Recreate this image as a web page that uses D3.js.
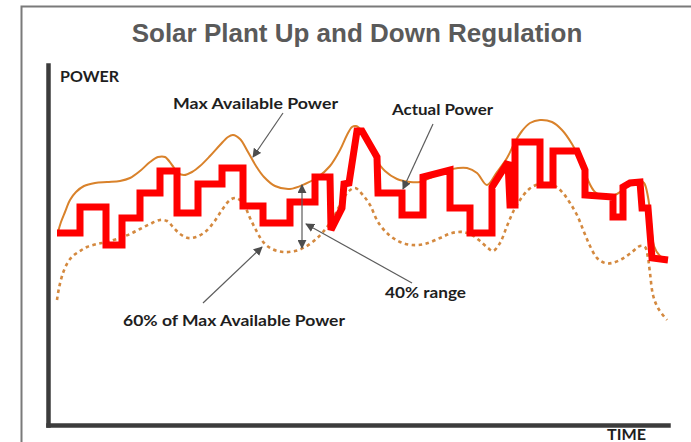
<!DOCTYPE html>
<html>
<head>
<meta charset="utf-8">
<script src="https://cdn.jsdelivr.net/npm/d3@7"></script>
<style>
  html, body { margin: 0; padding: 0; background: #ffffff; }
  svg { display: block; }
</style>
</head>
<body>
<svg id="chart" width="691" height="442"></svg>
<script>
// ---------- DATA (time, power) ----------
const titleText = "Solar Plant Up and Down Regulation";
const axisLabels = ["POWER", "TIME"];

// Max available power (smooth solid orange curve)
const maxTime  = [10,13,17,22,28,36,47,59,72,82,92,102,110,117,124,130,136,144,152,162,172,180,185,192,200,208,216,227,242,257,270,282,292,299,304,308,314,320,327,337,349,362,372,384,397,410,419,429,439,449,459,467,474,482,492,504,514,524,532,539,547,559,569,580,590,596,600,603,606,612,619];
const maxPower = [193,203,213,225,233,239,242,243,244,247,254,263,268,268,260,252,250,253,259,269,280,288,290,286,273,259,248,239,236,241,248,259,275,290,298,299,294,282,267,254,246,243,243,248,254,257,257,252,240,253,267,283,294,302,305,303,295,281,265,247,233,228,231,239,245,242,228,203,179,169,165];

// 60% of max available power (dotted orange curve)
const lowTime  = [9,11,15,20,25,32,39,49,59,72,82,92,102,112,119,125,132,140,148,157,166,174,182,188,195,202,209,216,224,235,247,257,267,275,284,292,300,307,314,322,330,340,352,364,377,392,404,415,424,432,440,445,452,459,466,472,480,488,497,507,515,522,529,536,542,549,557,564,574,584,592,597,600,602,605,610,619];
const lowPower = [125,137,152,163,169,174,178,181,183,187,191,196,201,205,204,198,191,187,188,193,203,215,225,227,222,207,193,182,176,173,174,178,185,193,205,220,233,237,231,220,203,191,183,180,181,187,192,193,190,184,177,174,182,199,215,225,235,240,242,239,232,222,210,193,179,167,162,162,166,173,179,178,167,152,130,117,105];

// Actual power (stepped red line, vertices)
const actTime  = [9,32,32,58,58,74,74,92,92,112,112,129,129,150,150,174,174,195,195,215,215,242,242,267,267,282,283,294,296,301,309,314,329,330,354,354,375,375,402,402,422,422,444,444,460,462,467,467,492,492,505,505,529,537,537,565,565,575,575,582,592,594,600,604,620];
const actPower = [192,192,218,218,180,180,207,207,232,232,254,254,212,212,241,241,257,257,219,219,202,202,223,223,248,248,195,217,241,242,294,294,268,232,232,210,210,248,255,217,217,192,192,238,263,220,220,283,283,240,240,274,274,255,230,228,208,208,238,242,243,217,217,167,165];

// Annotation labels and their anchor (time, power)
const labelTexts = ["Max Available Power", "Actual Power", "40% range", "60% of Max Available Power"];
const labelTime  = [125, 344, 337, 75];
const labelPower = [316, 310, 127, 99];

// Annotation pointer arrows: from (time, power) to (time, power)
const arrowFromTime  = [235, 385, 364, 155];
const arrowFromPower = [312, 301, 142, 122];
const arrowToTime    = [205, 355, 258, 214];
const arrowToPower   = [268, 236, 201, 178];

// 40% range bracket (double-headed) at this time, between these powers
const rangeTime = 254;
const rangeTop = 240;
const rangeBottom = 177;

// ---------- DRAWING ----------
const svg = d3.select("#chart");

const x = d3.scaleLinear().domain([0, 620]).range([48, 668]);
const y = d3.scaleLinear().domain([0, 360]).range([425, 65]);

// outer frame
svg.append("rect")
  .attr("x", 21.5).attr("y", 6.5)
  .attr("width", 720).attr("height", 500)
  .attr("fill", "#ffffff")
  .attr("stroke", "#7a7a7a")
  .attr("stroke-width", 2);

// title
svg.append("text")
  .attr("x", 357).attr("y", 42)
  .attr("text-anchor", "middle")
  .attr("font-family", "'Liberation Sans', Arial, sans-serif")
  .attr("font-weight", "bold")
  .attr("font-size", 26)
  .attr("fill", "#5a5a5a")
  .text(titleText);

// markers
const defs = svg.append("defs");
defs.append("marker")
  .attr("id", "arrow")
  .attr("viewBox", "0 0 10 10")
  .attr("refX", 9).attr("refY", 5)
  .attr("markerWidth", 9).attr("markerHeight", 9)
  .attr("markerUnits", "userSpaceOnUse")
  .attr("orient", "auto-start-reverse")
  .append("path")
  .attr("d", "M0,0 L10,5 L0,10 z")
  .attr("fill", "#4d4d4d");

// axes (no ticks)
const xAxis = d3.axisBottom(x).tickValues([]).tickSizeOuter(0);
const yAxis = d3.axisLeft(y).tickValues([]).tickSizeOuter(0);
const gx = svg.append("g").attr("transform", `translate(0,${y(0)})`).call(xAxis);
const gy = svg.append("g").attr("transform", `translate(${x(0)},0)`).call(yAxis);
[gx, gy].forEach(g => g.select(".domain")
  .attr("stroke", "#3c3c3c")
  .attr("stroke-width", 4.5)
  .attr("stroke-linecap", "square"));

// series
const maxData = maxTime.map((t, i) => [t, maxPower[i]]);
const lowData = lowTime.map((t, i) => [t, lowPower[i]]);
const actData = actTime.map((t, i) => [t, actPower[i]]);

const smooth = d3.line().x(d => x(d[0])).y(d => y(d[1])).curve(d3.curveCatmullRom.alpha(0.5));
const straight = d3.line().x(d => x(d[0])).y(d => y(d[1]));

svg.append("path")
  .attr("d", smooth(lowData))
  .attr("fill", "none")
  .attr("stroke", "#d4893f")
  .attr("stroke-width", 2.6)
  .attr("stroke-dasharray", "3.5,3.5");

svg.append("path")
  .attr("d", smooth(maxData))
  .attr("fill", "none")
  .attr("stroke", "#d9822b")
  .attr("stroke-width", 2);

svg.append("path")
  .attr("d", straight(actData))
  .attr("fill", "none")
  .attr("stroke", "#ff0000")
  .attr("stroke-width", 7)
  .attr("stroke-linejoin", "miter")
  .attr("stroke-miterlimit", 3);

// pointer arrows
arrowFromTime.forEach((t, i) => {
  svg.append("line")
    .attr("x1", x(t)).attr("y1", y(arrowFromPower[i]))
    .attr("x2", x(arrowToTime[i])).attr("y2", y(arrowToPower[i]))
    .attr("stroke", "#5c5c5c")
    .attr("stroke-width", 1.2)
    .attr("marker-end", "url(#arrow)");
});

// 40% double arrow
svg.append("line")
  .attr("x1", x(rangeTime)).attr("y1", y(rangeTop))
  .attr("x2", x(rangeTime)).attr("y2", y(rangeBottom))
  .attr("stroke", "#5c5c5c")
  .attr("stroke-width", 1.2)
  .attr("marker-start", "url(#arrow)")
  .attr("marker-end", "url(#arrow)");

// label styles
const labelFont = "Lato, 'Open Sans', sans-serif";
const labelWidths = [165, 101, 81, 222];
labelTexts.forEach((s, i) => {
  svg.append("text")
    .attr("x", x(labelTime[i])).attr("y", y(labelPower[i]))
    .attr("font-family", labelFont)
    .attr("font-weight", "bold")
    .attr("font-size", 15.5)
    .attr("fill", "#1e1e1e")
    .attr("textLength", labelWidths[i])
    .attr("lengthAdjust", "spacingAndGlyphs")
    .text(s);
});

// axis titles
svg.append("text")
  .attr("x", x(0) + 12).attr("y", 82)
  .attr("font-family", labelFont)
  .attr("font-weight", "bold")
  .attr("font-size", 15.5)
  .attr("fill", "#1e1e1e")
  .attr("textLength", 59)
  .attr("lengthAdjust", "spacingAndGlyphs")
  .text(axisLabels[0]);

svg.append("text")
  .attr("x", 607).attr("y", 440)
  .attr("font-family", labelFont)
  .attr("font-weight", "bold")
  .attr("font-size", 15)
  .attr("fill", "#1e1e1e")
  .attr("textLength", 39)
  .attr("lengthAdjust", "spacingAndGlyphs")
  .text(axisLabels[1]);
</script>
</body>
</html>
